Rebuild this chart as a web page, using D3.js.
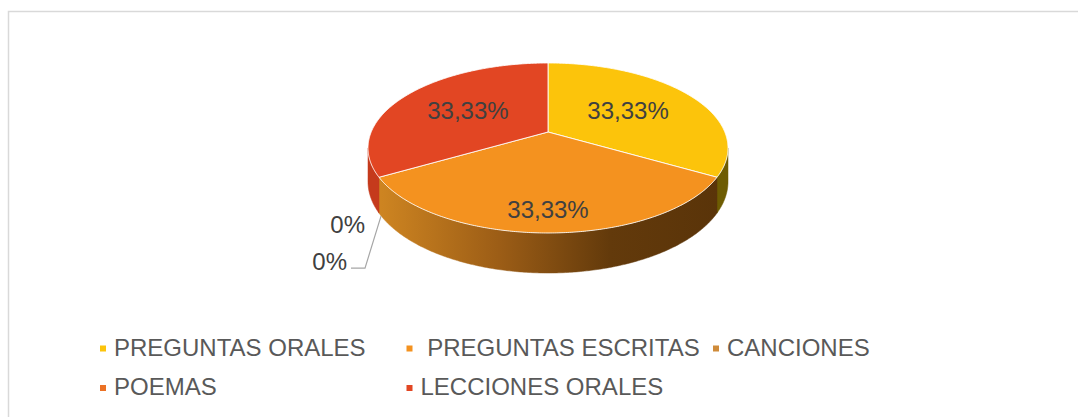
<!DOCTYPE html>
<html lang="es">
  <head>
    <meta charset="utf-8">
    <title>Pie 3D</title>
    <script src="https://d3js.org/d3.v7.min.js"></script>
    <style>
      body { margin: 0; background: #fff; }
      text { font-family: "Liberation Sans", Arial, sans-serif; }
    </style>
  </head>
  <body>
    <script>
      // data
      const categories = ['PREGUNTAS ORALES', ' PREGUNTAS ESCRITAS', 'CANCIONES', 'POEMAS', 'LECCIONES ORALES'];
      const values = [33.33, 33.33, 0, 0, 33.33];
      const valueLabels = ['33,33%', '33,33%', '0%', '0%', '33,33%'];
      const topColors = ['#fcc40b', '#f4921f', '#cf8b3a', '#eb7125', '#e24623'];
      const wallColors = ['#6e5c02', 'url(#wallOrange)', '#8a5a20', '#b04a16', '#c53a1c'];

      const width = 1078, height = 417;

      // perspective for the tilted disk
      const cx = 548, cy = 132, B = 176.8, A = 82, K = -0.188, D = 32.5;

      function proj(a, r, z) {
        const u = r * Math.sin(a), v = -r * Math.cos(a);
        const w = 1 + K * v;
        return [cx + B * u / w, cy + (A * v + D * z) / w];
      }

      const svg = d3.select('body').append('svg')
        .attr('width', width)
        .attr('height', height);

      const defs = svg.append('defs');
      const grad = defs.append('linearGradient')
        .attr('id', 'wallOrange')
        .attr('gradientUnits', 'userSpaceOnUse')
        .attr('x1', 382).attr('x2', 717).attr('y1', 0).attr('y2', 0);
      [[0, '#cd8421'], [0.35, '#9c5d16'], [0.68, '#633a0b'], [1, '#5a3409']].forEach(s => {
        grad.append('stop').attr('offset', s[0]).attr('stop-color', s[1]);
      });

      // chart area frame
      svg.append('rect')
        .attr('x', 8.5).attr('y', 11.5)
        .attr('width', 1100).attr('height', 430)
        .attr('fill', '#fff')
        .attr('stroke', '#d9d9d9')
        .attr('stroke-width', 1.5);

      const pie = d3.pie().sort(null).value(d => d)
        .startAngle(0).endAngle(2 * Math.PI);
      const arcs = pie(values);

      const line = d3.line();
      const steps = a => Math.max(2, Math.ceil((a[1] - a[0]) / 0.01));

      function arcPts(a0, a1, z) {
        const n = steps([a0, a1]);
        return d3.range(n + 1).map(i => proj(a0 + (a1 - a0) * i / n, 1, z));
      }

      // outer walls, only the front part shows
      const visLo = Math.acos(K), visHi = 2 * Math.PI - Math.acos(K);
      const walls = svg.append('g');
      arcs.forEach((d, i) => {
        const a0 = Math.max(d.startAngle, visLo), a1 = Math.min(d.endAngle, visHi);
        if (a1 - a0 <= 0) return;
        const pts = arcPts(a0, a1, 0).concat(arcPts(a0, a1, 1).reverse());
        walls.append('path')
          .attr('d', line(pts) + 'Z')
          .attr('fill', wallColors[i])
          .attr('stroke', wallColors[i])
          .attr('stroke-width', 0.5);
      });

      // top faces
      const tops = svg.append('g');
      arcs.forEach((d, i) => {
        if (d.endAngle - d.startAngle <= 0) return;
        const pts = [proj(0, 0, 0)].concat(arcPts(d.startAngle, d.endAngle, 0));
        tops.append('path')
          .attr('d', line(pts) + 'Z')
          .attr('fill', topColors[i])
          .attr('stroke', '#fff')
          .attr('stroke-opacity', 0.85)
          .attr('stroke-width', 1)
          .attr('stroke-linejoin', 'round');
      });

      // value labels
      const labels = svg.append('g')
        .attr('font-size', 24)
        .attr('fill', '#404040');

      arcs.forEach((d, i) => {
        if (values[i] === 0) return;
        const mid = (d.startAngle + d.endAngle) / 2;
        const r = 0.55 + 0.25 * Math.max(0, -Math.cos(mid));
        const p = proj(mid, r, 0);
        labels.append('text')
          .attr('x', p[0]).attr('y', p[1] + 8.5)
          .attr('text-anchor', 'middle')
          .text(valueLabels[i]);
      });

      // zero slices sit at the same angle, labels stacked to the left
      const zeros = arcs.map((d, i) => i).filter(i => values[i] === 0);
      zeros.forEach((i, k) => {
        const anchor = proj(arcs[i].startAngle, 1, 1);
        if (k === 0) {
          labels.append('text')
            .attr('x', anchor[0] - 14).attr('y', anchor[1] + 20)
            .attr('text-anchor', 'end')
            .text(valueLabels[i]);
        } else {
          const elbow = [anchor[0] - 14, anchor[1] + 55];
          svg.append('path')
            .attr('d', line([[anchor[0] + 2, anchor[1] + 3], elbow, [elbow[0] - 14, elbow[1]]]))
            .attr('fill', 'none')
            .attr('stroke', '#a6a6a6')
            .attr('stroke-width', 1.2);
          labels.append('text')
            .attr('x', elbow[0] - 18).attr('y', elbow[1] + 2)
            .attr('text-anchor', 'end')
            .text(valueLabels[i]);
        }
      });

      // legend, 3 columns
      const colX = d3.scaleLinear().domain([0, 1]).range([100, 406.5]);
      const rowY = d3.scaleLinear().domain([0, 1]).range([348.5, 388]);

      const legend = svg.append('g').selectAll('g')
        .data(categories)
        .join('g')
        .attr('transform', (d, i) => `translate(${colX(i % 3)},${rowY(Math.floor(i / 3))})`);

      legend.append('rect')
        .attr('x', 0).attr('y', -3)
        .attr('width', 6).attr('height', 6)
        .attr('fill', (d, i) => topColors[i]);

      legend.append('text')
        .attr('x', 14).attr('y', 7)
        .attr('font-size', 24)
        .attr('fill', '#595959')
        .attr('xml:space', 'preserve')
        .style('white-space', 'pre')
        .text(d => d);
    </script>
  </body>
</html>
